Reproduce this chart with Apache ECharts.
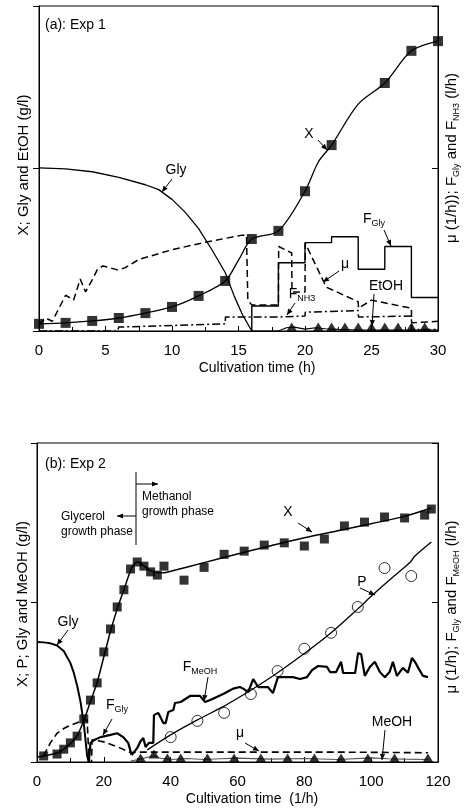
<!DOCTYPE html>
<html>
<head>
<meta charset="utf-8">
<script src="https://cdn.jsdelivr.net/npm/echarts@6/dist/echarts.min.js"></script>
<style>
html,body{margin:0;padding:0;background:#fff;}
#c{width:467px;height:809px;}
</style>
</head>
<body>
<div id="c"></div>
<script>
// ---------- Panel (a): Exp 1 ----------
const xTicksA = [0, 5, 10, 15, 20, 25, 30];
const tX1 = [0, 2, 4, 6, 8, 10, 12, 14, 16, 18, 20, 22, 26, 28, 30];
const vX1 = [2.2, 2.5, 3.1, 4.0, 5.5, 7.4, 10.8, 15.4, 28.3, 30.8, 43, 57.2, 76.3, 86.2, 89.2];
const tX1fit = [0, 2, 4, 6, 8, 10, 12, 14, 15, 16, 18, 20, 21, 22, 24, 26, 28, 30];
const vX1fit = [2.2, 2.5, 3.1, 4.0, 5.5, 7.4, 10.8, 15.4, 21.8, 28.3, 30.8, 43, 52, 57.2, 69.8, 76.3, 86.2, 89.2];
const tGly1 = [0, 2, 4, 6, 8, 9, 10, 11, 12, 13, 14, 14.7, 15.3, 16];
const vGly1 = [50.2, 49.9, 49, 47.3, 45, 43.5, 40.5, 36.5, 31.5, 25, 18, 10.5, 5, 0];
const tMu1 = [0, 0.5, 1, 1.5, 2, 2.6, 3.1, 3.5, 4, 4.4, 4.8, 5.3, 5.9, 6.5, 7.5, 10, 12.6, 15.3, 15.6, 15.7, 16, 18, 18.02, 19, 19.02, 20, 20.02, 21.6, 24, 24.02, 25, 28, 28.02, 30];
const vMu1 = [2, 4, 3, 7, 11, 9.5, 16, 12, 15.7, 19, 20, 19.5, 18.8, 19.5, 22, 25, 27.4, 29.5, 29.5, 9.5, 8, 8, 26, 24, 12, 12, 27, 13.5, 9, 7, 9.5, 7, 2.5, 3];
const tNH3 = [0, 5.9, 6, 14, 14.02, 18, 20, 20.02, 24, 24.02, 28, 28.02, 30];
const vNH3 = [0, 0, 1.2, 2.2, 4.3, 4.3, 4.6, 5.8, 6.3, 4.3, 4.6, 0.5, 0.5];
const tFGly1 = [16, 16, 18, 18, 20, 20, 22, 22, 24, 24, 26, 26, 28, 28, 30];
const vFGly1 = [0, 7.7, 7.7, 21, 21, 27.2, 27.2, 29, 29, 19, 19, 26, 26, 10.3, 10.3];
const tEtOH = [16, 18, 18.6, 19.2, 20, 20.8, 21.5, 22.5, 24, 30];
const vEtOH = [0, 0, 1, 1.2, 0.6, 1, 0.7, 0.5, 0.3, 0.3];
const tEtOHm = [19, 21, 22, 23, 24, 25, 26, 27, 28, 29];
const vEtOHm = [1.2, 1.2, 1.2, 1.2, 1.2, 1.2, 1.2, 1.2, 1.2, 1.2];

// ---------- Panel (b): Exp 2 ----------
const xTicksB = [0, 20, 40, 60, 80, 100, 120];
const tX2 = [2, 6, 8, 10, 12, 14, 16, 18, 20, 22, 24, 26, 28, 30, 32, 34, 36, 38, 44, 50, 56, 62, 68, 74, 80, 86, 92, 98, 104, 110, 116, 118];
const vX2 = [1.9, 2.5, 4, 6, 8.1, 13.5, 19.4, 24.8, 34.5, 41.7, 48.6, 54, 60.5, 62.7, 61.4, 59.6, 58.6, 61.4, 57, 61, 65.1, 66.1, 68, 68.7, 67.7, 69.9, 74, 75.2, 76.8, 76.5, 77.4, 79.3];
const tX2fit = [0, 2, 4, 6, 8, 10, 12, 14, 16, 18, 20, 22, 24, 26, 28, 29, 30, 32, 34, 36, 38, 40, 50, 60, 70, 80, 90, 100, 110, 118];
const vX2fit = [1.5, 1.9, 2.3, 2.8, 4, 5.8, 8.2, 13, 19, 25, 33, 41, 48, 54, 60, 62, 62.7, 61.5, 60, 59.3, 59.3, 59.8, 62.5, 65.2, 67.8, 70.3, 72.5, 74.7, 77, 79.6];
const tP2 = [40, 48, 56, 64, 72, 80, 88, 96, 104, 112];
const vP2 = [7.8, 12.9, 15.4, 21.3, 28.5, 35.5, 40.5, 48.6, 60.8, 58.3];
const tP2fit = [33, 40, 48, 56, 60, 64, 72, 80, 88, 96, 100.5, 106, 110.5, 112, 113, 118];
const vP2fit = [3.8, 8.5, 13.2, 17.5, 20, 22.5, 28, 34, 40.5, 48, 52.4, 57.5, 61.5, 63, 64.5, 69];
const tGly2 = [0, 2, 4, 6, 8, 10, 11, 12, 13, 14, 15, 15.5];
const vGly2 = [37.6, 37.5, 37.2, 36.5, 34.8, 31, 28, 24, 19, 12, 2, 0];
const tFGly2 = [15.5, 16, 17, 19, 22, 24, 25.8, 27.3, 28.3];
const vFGly2 = [0, 6, 6.8, 7.8, 8.5, 9, 7.8, 6, 2.2];
const tFMeOH = [28.3, 29, 30, 31, 31.8, 32.5, 33.5, 34.8, 35, 36.3, 37.8, 38.5, 39.3, 40.8, 41.3, 43, 45.8, 48.8, 50.3, 52, 53.8, 56, 58.7, 60.7, 61.7, 63.2, 64.7, 66.2, 69.1, 70.6, 72.1, 76.6, 78.7, 80.8, 82.3, 84.1, 86.8, 87.7, 89.5, 91, 91.6, 95.2, 96.1, 97, 98.1, 99.6, 101.1, 102.6, 104.1, 105.5, 106.5, 107.7, 109.5, 111, 112.2, 113.1, 114.1, 115.5, 117];
const vFMeOH = [2.2, 3, 4.4, 6.5, 7.5, 4.7, 6, 6, 14.7, 15.4, 12.2, 12.2, 15.7, 16.3, 18.5, 18.8, 20.7, 20.7, 18.8, 19.5, 20.4, 21.5, 23, 23.5, 23, 21.9, 26, 23.5, 23.5, 21.6, 26.6, 26.6, 26, 26.6, 28.8, 30.1, 29.8, 28.2, 28.2, 31.4, 27.9, 27.9, 34.2, 33.8, 27, 29.8, 31.4, 28.2, 26.6, 28.2, 31.4, 27, 29.5, 28, 32.6, 31.4, 29.5, 27, 26.6];
const tMu2 = [2, 4, 6, 8, 10, 12, 14, 15, 15.6, 16.3, 16.5, 20, 24, 28, 30, 60, 90, 117];
const vMu2 = [2, 6, 9, 10.5, 11.5, 12.3, 13, 13.2, 0, 0, 7, 6.3, 4.8, 3, 3.1, 3.1, 3.1, 2.9];
const tMeOH = [28, 31, 33, 35, 37, 40, 45, 50, 55, 60, 70, 80, 90, 100, 105, 110, 117];
const vMeOH = [0.3, 0.9, 1.5, 1.9, 1.2, 0.8, 1.1, 0.8, 1, 1.2, 0.9, 1.1, 0.8, 1.3, 1, 0.9, 0.8];
const tMeOHm = [31, 35, 39, 43, 51, 59, 67, 75, 83, 91, 99, 107, 117];
const vMeOHm = [1.25, 2.5, 1.25, 1.25, 1.25, 1.25, 1.25, 1.25, 1.25, 1.25, 1.25, 1.25, 1.25];

const pairs = (t, v) => t.map((x, i) => [x, v[i]]);
const FONT = 'Liberation Sans, Arial, sans-serif';
const K = '#000';

function xAx(grid, max, interval) {
  return {
    gridIndex: grid, type: 'value', min: 0, max: max, interval: interval,
    axisLine: { show: true, onZero: false, lineStyle: { color: K, width: 1 } },
    axisTick: { show: true, inside: true, length: 5, lineStyle: { color: K } },
    minorTick: { show: true, splitNumber: 2, length: 4, lineStyle: { color: K } },
    splitLine: { show: false },
    axisLabel: { color: K, fontSize: 15, fontFamily: FONT, margin: 12 }
  };
}
function yAx(grid, pos) {
  return {
    gridIndex: grid, type: 'value', min: 0, max: 100, interval: 50, position: pos,
    axisLine: { show: true, onZero: false, lineStyle: { color: K, width: 1 } },
    axisTick: { show: true, inside: pos === 'right', length: 6, lineStyle: { color: K } },
    splitLine: { show: false },
    axisLabel: { show: false }
  };
}
function lineS(xi, yi, data, opt) {
  return Object.assign({
    type: 'line', xAxisIndex: xi, yAxisIndex: yi, data: data, symbol: 'none',
    lineStyle: { color: K, width: 1.3 }, silent: true, animation: false, z: 3
  }, opt || {});
}

const chart = echarts.init(document.getElementById('c'), null, { renderer: 'canvas' });

const option = {
  animation: false,
  backgroundColor: '#fff',
  grid: [
    { left: 39, right: 29, top: 6, bottom: 478, show: true, borderColor: K, borderWidth: 1, backgroundColor: 'transparent' },
    { left: 37, right: 29, top: 443, bottom: 47, show: true, borderColor: K, borderWidth: 1, backgroundColor: 'transparent' }
  ],
  xAxis: [xAx(0, 30, 5), xAx(1, 120, 20)],
  yAxis: [yAx(0, 'left'), yAx(0, 'right'), yAx(1, 'left'), yAx(1, 'right')],
  series: [
    // panel a
    lineS(0, 0, pairs(tGly1, vGly1), { lineStyle: { color: K, width: 1.3 } }),
    lineS(0, 0, pairs(tX1fit, vX1fit), { smooth: 0.3 }),
    { type: 'scatter', xAxisIndex: 0, yAxisIndex: 0, data: pairs(tX1, vX1), symbol: 'rect', symbolSize: 10, itemStyle: { color: K }, z: 5, silent: true },
    lineS(0, 1, pairs(tMu1, vMu1), { lineStyle: { color: K, width: 1.5, type: [7, 4] } }),
    lineS(0, 1, pairs(tNH3, vNH3), { lineStyle: { color: K, width: 1.5, type: [8, 3, 2, 3] } }),
    lineS(0, 1, pairs(tFGly1, vFGly1), { lineStyle: { color: K, width: 1.4 } }),
    lineS(0, 0, pairs(tEtOH, vEtOH), { lineStyle: { color: K, width: 1.2 } }),
    { type: 'scatter', xAxisIndex: 0, yAxisIndex: 0, data: pairs(tEtOHm, vEtOHm), symbol: 'triangle', symbolSize: [11, 9], itemStyle: { color: K }, z: 5, silent: true },
    // panel b
    lineS(1, 2, pairs(tGly2, vGly2), { lineStyle: { color: K, width: 2 } }),
    lineS(1, 2, pairs(tX2fit, vX2fit), { smooth: 0.3, lineStyle: { color: K, width: 1.5 } }),
    { type: 'scatter', xAxisIndex: 1, yAxisIndex: 2, data: pairs(tX2, vX2), symbol: 'rect', symbolSize: 9, itemStyle: { color: K }, z: 5, silent: true },
    lineS(1, 2, pairs(tP2fit, vP2fit), { smooth: 0.3, lineStyle: { color: K, width: 1.3 } }),
    { type: 'scatter', xAxisIndex: 1, yAxisIndex: 2, data: pairs(tP2, vP2), symbol: 'circle', symbolSize: 11, itemStyle: { color: 'rgba(0,0,0,0)', borderColor: K, borderWidth: 1 }, z: 5, silent: true },
    lineS(1, 3, pairs(tFGly2, vFGly2), { lineStyle: { color: K, width: 2.2 } }),
    lineS(1, 3, pairs(tFMeOH, vFMeOH), { lineStyle: { color: K, width: 2.2 } }),
    lineS(1, 3, pairs(tMu2, vMu2), { lineStyle: { color: K, width: 1.6, type: [7, 4] } }),
    lineS(1, 2, pairs(tMeOH, vMeOH), { lineStyle: { color: '#555', width: 1.1 } }),
    { type: 'scatter', xAxisIndex: 1, yAxisIndex: 2, data: pairs(tMeOHm, vMeOHm), symbol: 'triangle', symbolSize: [11, 9], itemStyle: { color: K }, z: 5, silent: true }
  ]
};
chart.setOption(option);

// ---------- annotations ----------
const G = [];
function txt(x, y, text, size, align, rich) {
  G.push({ type: 'text', x: x, y: y, silent: true, z: 10,
    style: { text: text, fontSize: size || 14, fontFamily: FONT, fill: K, align: align || 'center', verticalAlign: 'middle', rich: rich } });
}
function vtxt(x, y, text, rich) {
  G.push({ type: 'text', x: x, y: y, rotation: Math.PI / 2, silent: true, z: 10,
    style: { text: text, fontSize: 15, fontFamily: FONT, fill: K, align: 'center', verticalAlign: 'middle', rich: rich } });
}
function arrow(x1, y1, x2, y2, head) {
  G.push({ type: 'line', silent: true, z: 10, shape: { x1: x1, y1: y1, x2: x2, y2: y2 }, style: { stroke: K, lineWidth: 1 } });
  if (head !== false) {
    const a = Math.atan2(y2 - y1, x2 - x1), L = 6, W = 2.6;
    const bx = x2 - L * Math.cos(a), by = y2 - L * Math.sin(a);
    const px = -Math.sin(a) * W, py = Math.cos(a) * W;
    G.push({ type: 'polygon', silent: true, z: 10, shape: { points: [[x2, y2], [bx + px, by + py], [bx - px, by - py]] }, style: { fill: K } });
  }
}
const subRich = { s: { fontSize: 9, fontFamily: FONT, fill: K, padding: [9, 0, 0, 0] }, n: { fontSize: 15, fontFamily: FONT, fill: K } };
const subRich14 = { s: { fontSize: 9, fontFamily: FONT, fill: K, padding: [9, 0, 0, 0] }, n: { fontSize: 14, fontFamily: FONT, fill: K } };

// panel a
txt(45, 25, '(a): Exp 1', 14, 'left');
txt(176, 170, 'Gly'); arrow(172, 179, 162, 192);
txt(309, 134, 'X'); arrow(318, 140, 327, 150);
txt(374, 219, '{n|F}{s|Gly}', 14, 'center', subRich14); arrow(384, 230, 391, 246);
txt(345, 264, 'μ'); arrow(339, 271, 323, 282);
txt(302, 294, '{n|F}{s|NH3}', 14, 'center', subRich14); arrow(295, 303, 287, 315);
txt(386, 286, 'EtOH'); arrow(374, 294, 372, 326);
vtxt(24, 165, 'X; Gly and EtOH (g/l)');
vtxt(452, 158, '{n|μ (1/h)); F}{s|Gly}{n| and F}{s|NH3}{n| (l/h)}', subRich);
txt(257, 368, 'Cultivation time (h)', 14);

// panel b
txt(45, 464, '(b): Exp 2', 14, 'left');
G.push({ type: 'line', silent: true, z: 10, shape: { x1: 136, y1: 472, x2: 136, y2: 545 }, style: { stroke: K, lineWidth: 1 } });
arrow(136, 484, 158, 484); arrow(136, 516, 117, 516);
txt(142, 497, 'Methanol', 12, 'left'); txt(142, 512, 'growth phase', 12, 'left');
txt(61, 517, 'Glycerol', 12, 'left'); txt(61, 532, 'growth phase', 12, 'left');
txt(288, 512, 'X'); arrow(298, 523, 312, 532);
txt(362, 582, 'P'); arrow(360, 588, 375, 595);
txt(68, 622, 'Gly'); arrow(68, 630, 57, 645);
txt(117, 705, '{n|F}{s|Gly}', 14, 'center', subRich14); arrow(112, 719, 103, 735);
txt(200, 667, '{n|F}{s|MeOH}', 14, 'center', subRich14); arrow(208, 677, 204, 701);
txt(240, 733, 'μ'); arrow(245, 743, 259, 751);
txt(392, 722, 'MeOH'); arrow(385, 730, 382, 760);
vtxt(23, 604, 'X; P; Gly and MeOH (g/l)');
vtxt(452, 607, '{n|μ (1/h); F}{s|Gly}{n| and F}{s|MeOH}{n| (l/h)}', subRich);
txt(252, 799, 'Cultivation time  (1/h)', 14);

chart.setOption({ graphic: G });
</script>
</body>
</html>
